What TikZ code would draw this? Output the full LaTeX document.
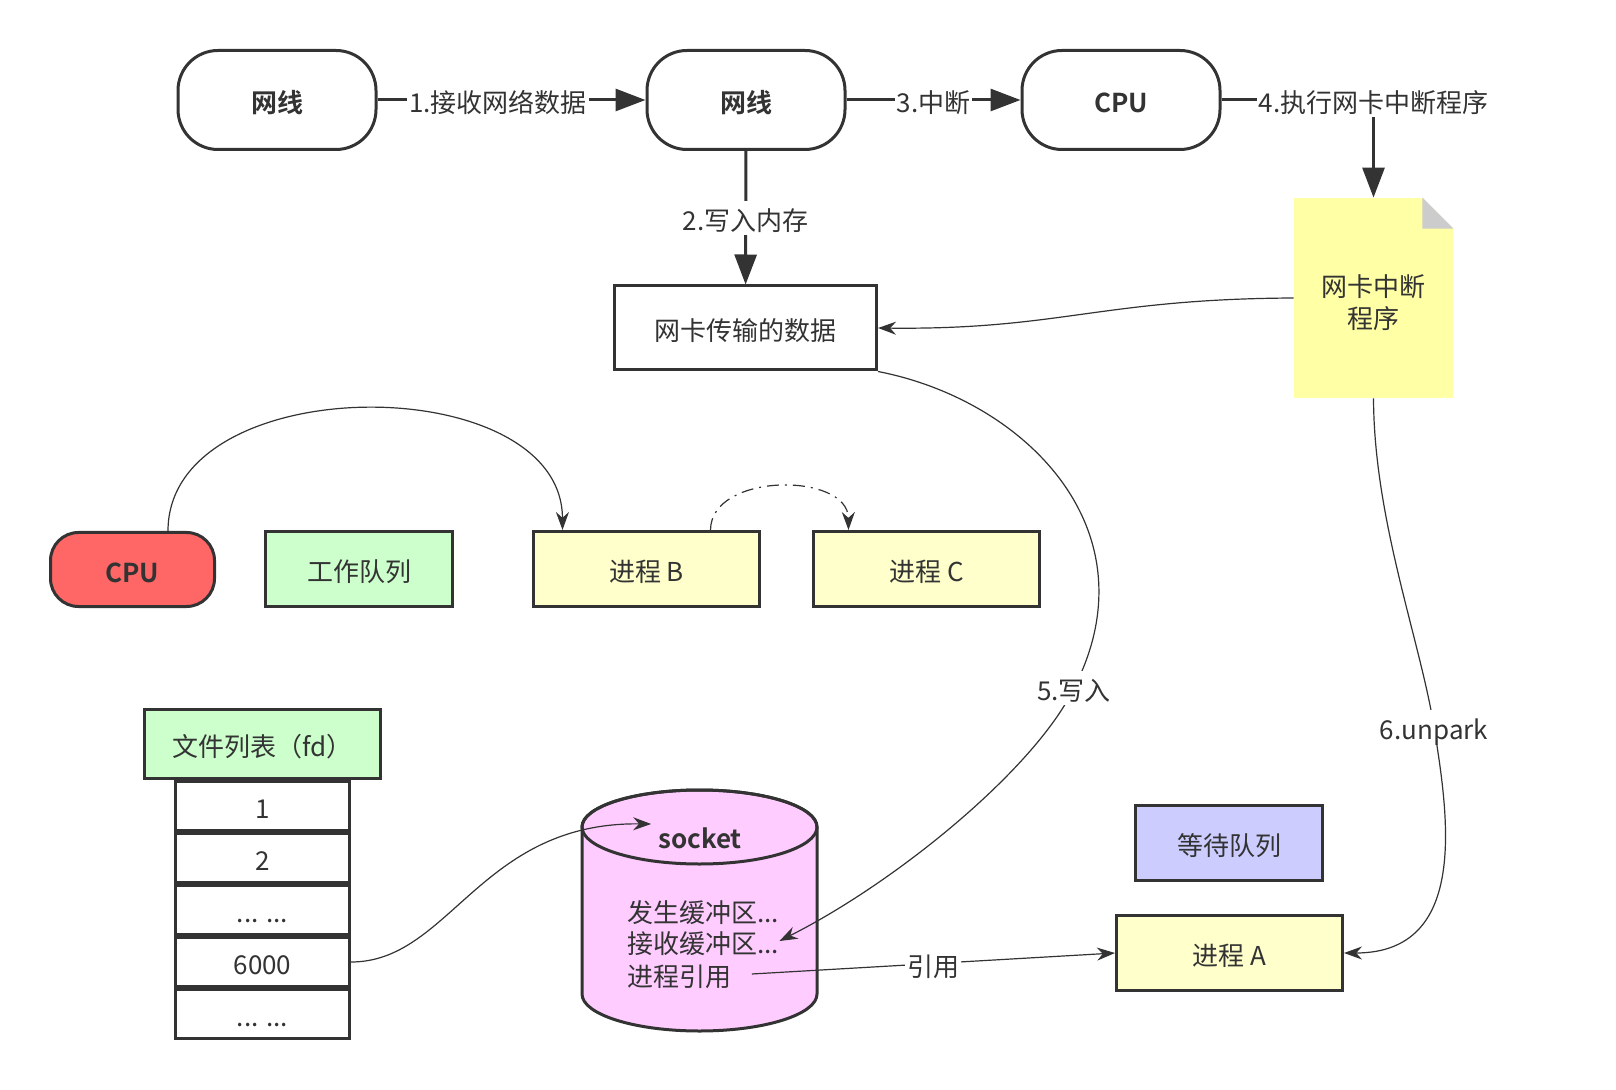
\documentclass[tikz,border=0pt]{standalone}
\usepackage{fontspec}
\setmainfont{Noto Sans CJK SC}[BoldFont={Noto Sans CJK SC Bold}]
\usetikzlibrary{arrows.meta,positioning}
\definecolor{ink}{HTML}{333333}
\definecolor{cpured}{HTML}{FF6666}
\definecolor{workgreen}{HTML}{CCFFCC}
\definecolor{procyellow}{HTML}{FFFFCC}
\definecolor{waitblue}{HTML}{CCCCFF}
\definecolor{sockpink}{HTML}{FFCCFF}
\definecolor{notey}{HTML}{FFFFA6}
\definecolor{foldgray}{HTML}{CCCCCC}
\newcommand{\diagfont}{\fontsize{13pt}{16pt}\selectfont}
\newcommand{\skiprow}{... ...}

\begin{document}
\begin{tikzpicture}[x=0.5pt,y=-0.5pt,font=\diagfont,text=ink,
        every node/.append style={text height=14pt,text depth=1.1pt},
        wire/.style={draw=ink,line width=1.5pt,rounded corners=20pt,minimum width=99pt,minimum height=49.5pt,font=\diagfont\bfseries},
        box/.style={draw=ink,line width=1.5pt,minimum height=37.5pt},
        busarrow/.style={draw=ink,line width=1.5pt,-{Triangle[length=15pt,width=11pt]}},
        linkarrow/.style={draw=ink,line width=0.6pt,-{Stealth[length=9pt,width=6.5pt]}},
        lab/.style={fill=white,inner sep=1pt}]
        \useasboundingbox (0,0) rectangle (1616,1090);

        \node[wire] (wire1) at (277,100) {网线};
        \node[wire] (wire2) at (746,100) {网线};
        \node[wire] (cpu1) at (1121,100) {CPU};
        \node[box,minimum width=131pt,minimum height=42pt] (buf) at (745.5,328) {网卡传输的数据};
        \node[fill=notey,minimum width=79.5pt,minimum height=100pt,align=center,text height=31.5pt,text depth=1.3pt] (isr) at (1373.5,298) {网卡中断\\程序};
        \fill[white] (isr.north east) -- ++(-31,0) -- ++(31,31) -- cycle;
        \fill[foldgray] ([xshift=-15.5pt]isr.north east) -- ++(0,31) -- ++(31,0) -- cycle;

        \draw[busarrow] (wire1) -- node[lab,pos=0.45] {1.接收网络数据} (wire2);
        \draw[busarrow] (wire2) -- node[lab] {2.写入内存} (buf);
        \draw[busarrow] (wire2) -- node[lab] {3.中断} (cpu1);
        \draw[busarrow] (cpu1) -| node[lab] {4.执行网卡中断程序} (isr);
        \draw[linkarrow] (isr.west) .. controls (1100,299) and (1060,330) .. (buf.east);

        \node[box,fill=cpured,rounded corners=14pt,minimum width=82pt,minimum height=37pt,font=\diagfont\bfseries] (cpu2) at (132.5,569.5) {CPU};
        \node[box,fill=workgreen,minimum width=93.5pt] (work) at (359,569) {工作队列};
        \node[box,fill=procyellow,minimum width=113pt] (procB) at (646.5,569) {进程 B};
        \node[box,fill=procyellow,minimum width=113pt] (procC) at (926.5,569) {进程 C};
        \draw[linkarrow] ([xshift=17.75pt]cpu2.north) .. controls (168,368) and (562,368) .. ([xshift=-42pt]procB.north);
        \draw[linkarrow,dash pattern=on 6pt off 3pt on 1pt off 3pt] ([xshift=32pt]procB.north) .. controls (711,472) and (848,472) .. ([xshift=-39pt]procC.north);

        \node[box,fill=workgreen,minimum width=118pt,minimum height=34.5pt] (fdhead) at (262.5,744) {文件列表（fd）};
        \foreach \t [count=\i] in {1,2,\skiprow,6000,\skiprow}
          \node[box,minimum width=87pt,minimum height=24.5pt] (row\i) at (262.5,754+52*\i) {\t};

        \filldraw[fill=sockpink,draw=ink,line width=1.5pt] (582,827) -- (582,994) arc[start angle=180,end angle=360,x radius=58.75pt,y radius=18.5pt] -- (817,827) arc[start angle=0,end angle=180,x radius=58.75pt,y radius=18.5pt] -- cycle;
        \draw[draw=ink,line width=1.5pt] (699.5,827) ellipse[x radius=58.75pt,y radius=18.5pt];
        \node[font=\diagfont\bfseries] (sock) at (700,836) {socket};
        \node[anchor=west,inner sep=0pt] (sendq) at (627,910) {发生缓冲区...};
        \node[anchor=west,inner sep=0pt] (recv) at (627,941) {接收缓冲区...};
        \node[anchor=west,inner sep=0pt] (pref) at (627,974) {进程引用};

        \node[box,fill=waitblue,minimum width=93.5pt] (wait) at (1229,842.5) {等待队列};
        \node[box,fill=procyellow,minimum width=113pt] (procA) at (1229.5,953) {进程 A};

        \draw[linkarrow] (row4.east) .. controls (450,962) and (480,822) .. ([yshift=6pt]sock.west);
        \draw[linkarrow] (buf.south east) .. controls (1025,400) and (1155,530) .. (1074,688) node[lab] {5.写入} .. controls (1036,767) and (900,880) .. (recv.east);
        \draw[linkarrow] (isr.south) .. controls (1374,520) and (1420,640) .. (1434,727) node[lab] {6.unpark} .. controls (1448,814) and (1470,953) .. (procA.east);
        \draw[linkarrow] ([xshift=10pt]pref.east) -- node[lab] {引用} (procA.west);
      \end{tikzpicture}
\end{document}
